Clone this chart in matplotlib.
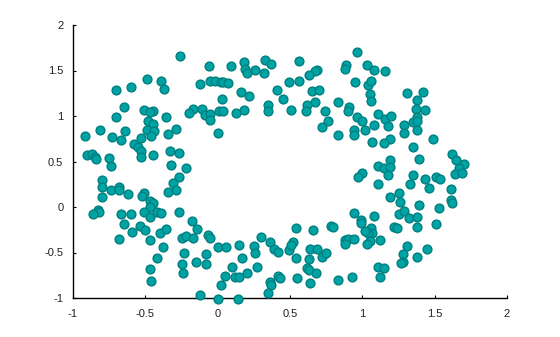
import matplotlib
matplotlib.use("Agg")
import matplotlib.pyplot as plt

plt.rcParams['font.family'] = ['Liberation Sans', 'DejaVu Sans']
plt.rcParams['axes.unicode_minus'] = False

x_vals = [
    -0.26, -0.49, -0.39, -0.37, -0.70, -0.60, -0.65, -0.51, -0.45, -0.47,
    -0.70, -0.36, -0.48, -0.45, -0.81, -0.64, -0.49, -0.44, -0.46, -0.92,
    -0.73, -0.67, -0.53, -0.34, -0.29, -0.58, -0.55, -0.53, -0.53, -0.45,
    -0.33, -0.27, -0.90, -0.87, -0.85, -0.84, -0.75, -0.74, -0.32, -0.06,
    0.09, 0.18, 0.19, 0.20, 0.26, 0.32, 0.33, 0.37, -0.12, -0.05,
    -0.02, 0.02, 0.04, 0.07, 0.16, 0.22, 0.03, 0.41, 0.35, 0.35,
    -0.17, -0.20, -0.11, -0.09, -0.05, -0.05, 0.01, 0.04, 0.13, 0.18,
    0.00, -0.22, 0.56, 0.96, 0.89, 0.88, 1.03, 0.69, 0.67, 0.63,
    0.49, 0.56, 0.65, 0.70, 0.45, 0.95, 1.04, 1.06, 1.05, 1.06,
    0.83, 0.67, 0.62, 0.61, 0.51, 0.74, 0.91, 0.90, 0.96, 1.00,
    1.08, 0.76, 0.72, 0.94, 0.94, 1.02, 0.83, 1.07, 1.00, 1.08,
    1.16, 1.31, 1.42, 1.38, 1.37, 1.43, 1.38, 1.11, 1.16, 1.20,
    1.18, 1.29, 1.35, 1.38, 1.29, 1.38, 1.19, 1.15, 1.49, 1.35,
    1.62, 1.65, 1.70, 1.67, 1.39, 1.19, 1.11, 1.15, 1.19, 1.35,
    1.51, 1.64, 1.69, 1.18, 1.11, 1.33, 1.43, 1.46, 1.54, 1.61,
    1.61, 1.62, 1.19, 1.25, 1.26, 1.25, 1.29, 1.32, 1.38, 1.38,
    1.39, 1.53, 1.51, 1.08, 1.06, 1.07, 1.04, 1.05, 1.03, 1.12,
    1.22, 1.24, 1.31, 1.28, 1.28, 1.27, 1.45, 1.38, 1.11, 1.15,
    1.12, 0.97, 0.94, 0.99, 0.99, 1.02, 0.88, 0.90, 0.94, 0.88,
    0.54, 0.66, 0.78, 0.80, 0.36, 0.39, 0.42, 0.49, 0.52, 0.51,
    0.54, 0.64, 0.69, 0.72, 0.75, 0.63, 0.62, 0.63, 0.68, 0.42,
    0.43, 0.36, 0.37, 0.35, 0.55, 0.64, 0.83, 0.93, -0.80, -0.80,
    -0.74, -0.68, -0.68, -0.62, -0.80, -0.51, -0.52, -0.47, -0.45, -0.47,
    -0.27, -0.31, -0.29, -0.34, -0.83, -0.82, -0.86, -0.67, -0.60, -0.51,
    -0.47, -0.42, -0.39, -0.27, -0.65, -0.54, -0.50, -0.59, -0.68, -0.47,
    -0.40, -0.36, -0.38, -0.42, -0.47, -0.46, -0.18, -0.14, -0.25, -0.22,
    -0.17, -0.07, -0.05, 0.00, 0.06, 0.15, -0.23, -0.15, -0.08, -0.08,
    -0.25, -0.24, 0.17, 0.10, 0.25, 0.26, 0.30, 0.27, 0.05, 0.12,
    0.15, 0.20, 0.02, -0.12, 0.00, 0.14,
]
y_vals = [
    1.66, 1.41, 1.38, 1.30, 1.29, 1.32, 1.10, 1.07, 1.06, 1.04,
    0.99, 0.99, 0.95, 0.91, 0.85, 0.83, 0.85, 0.83, 0.78, 0.78,
    0.77, 0.74, 0.76, 0.80, 0.86, 0.69, 0.66, 0.62, 0.55, 0.57,
    0.62, 0.59, 0.57, 0.58, 0.55, 0.53, 0.54, 0.45, 0.46, 1.55,
    1.55, 1.59, 1.52, 1.47, 1.51, 1.47, 1.61, 1.57, 1.35, 1.38,
    1.38, 1.37, 1.37, 1.36, 1.26, 1.22, 1.19, 1.29, 1.12, 1.05,
    1.08, 1.03, 1.08, 1.01, 1.02, 0.96, 1.05, 1.06, 1.03, 1.07,
    0.81, 0.43, 1.60, 1.70, 1.56, 1.52, 1.56, 1.51, 1.49, 1.45,
    1.37, 1.38, 1.27, 1.29, 1.19, 1.37, 1.34, 1.38, 1.24, 1.16,
    1.15, 1.15, 1.12, 1.05, 1.07, 1.05, 1.10, 1.05, 0.99, 0.95,
    0.90, 0.94, 0.88, 0.85, 0.79, 0.85, 0.79, 0.71, 0.37, 1.51,
    1.49, 1.25, 1.26, 1.18, 1.08, 1.07, 0.99, 1.02, 0.97, 1.00,
    0.89, 0.90, 0.93, 0.94, 0.81, 0.85, 0.75, 0.70, 0.75, 0.66,
    0.58, 0.52, 0.47, 0.43, 0.53, 0.52, 0.45, 0.43, 0.44, 0.35,
    0.33, 0.36, 0.37, 0.35, 0.25, 0.25, 0.31, 0.21, 0.31, 0.20,
    0.08, 0.04, 0.11, 0.15, 0.06, -0.08, -0.04, -0.12, -0.11, -0.22,
    0.02, -0.01, -0.19, -0.10, -0.23, -0.29, -0.29, -0.37, -0.41, -0.36,
    -0.22, -0.23, -0.43, -0.52, -0.60, -0.62, -0.46, -0.55, -0.66, -0.67,
    -0.77, 0.33, -0.07, -0.14, -0.18, -0.26, -0.36, -0.35, -0.35, -0.41,
    -0.23, -0.25, -0.21, -0.22, -0.39, -0.46, -0.49, -0.47, -0.38, -0.42,
    -0.56, -0.46, -0.46, -0.55, -0.50, -0.57, -0.67, -0.69, -0.73, -0.76,
    -0.78, -0.82, -0.86, -0.95, -0.78, -0.84, -0.80, -0.77, 0.30, 0.22,
    0.19, 0.22, 0.19, 0.14, 0.11, 0.15, 0.12, 0.07, 0.04, 0.00,
    0.33, 0.26, 0.19, 0.16, -0.03, -0.05, -0.08, -0.08, -0.08, -0.06,
    -0.11, -0.05, -0.07, -0.06, -0.19, -0.21, -0.25, -0.27, -0.35, -0.36,
    -0.29, -0.24, -0.44, -0.56, -0.68, -0.81, -0.15, -0.24, -0.34, -0.32,
    -0.34, -0.31, -0.34, -0.44, -0.44, -0.42, -0.50, -0.60, -0.52, -0.63,
    -0.63, -0.73, -0.56, -0.66, -0.43, -0.50, -0.33, -0.66, -0.76, -0.77,
    -0.77, -0.73, -0.86, -0.97, -1.01, -1.01,
]

tick_values = [-1, -0.5, 0, 0.5, 1, 1.5, 2]
tick_labels = ['-1', '-0.5', '0', '0.5', '1', '1.5', '2']

fig = plt.figure(figsize=(5.6, 3.37), dpi=100)
ax = fig.add_axes([73 / 560, 1 - 298 / 337, 434 / 560, 273 / 337])

ax.scatter(x_vals, y_vals, s=40, facecolor='#00a3a3', edgecolor='#007f80',
           linewidths=1.0, clip_on=False, zorder=5)

ax.set_xlim(-1, 2)
ax.set_ylim(-1, 2)
ax.set_xticks(tick_values)
ax.set_xticklabels(tick_labels)
ax.set_yticks(tick_values)
ax.set_yticklabels(tick_labels)

for side in ['top', 'right']:
    ax.spines[side].set_visible(False)
for side in ['left', 'bottom']:
    ax.spines[side].set_linewidth(1.0)
    ax.spines[side].set_color('#000000')

ax.tick_params(axis='both', direction='in', length=2.5, width=0.8,
               labelsize=8, colors='#000000', labelcolor='#222222')
ax.tick_params(axis='x', pad=8)
ax.tick_params(axis='y', pad=7)

fig.savefig('out.png', dpi=100)
